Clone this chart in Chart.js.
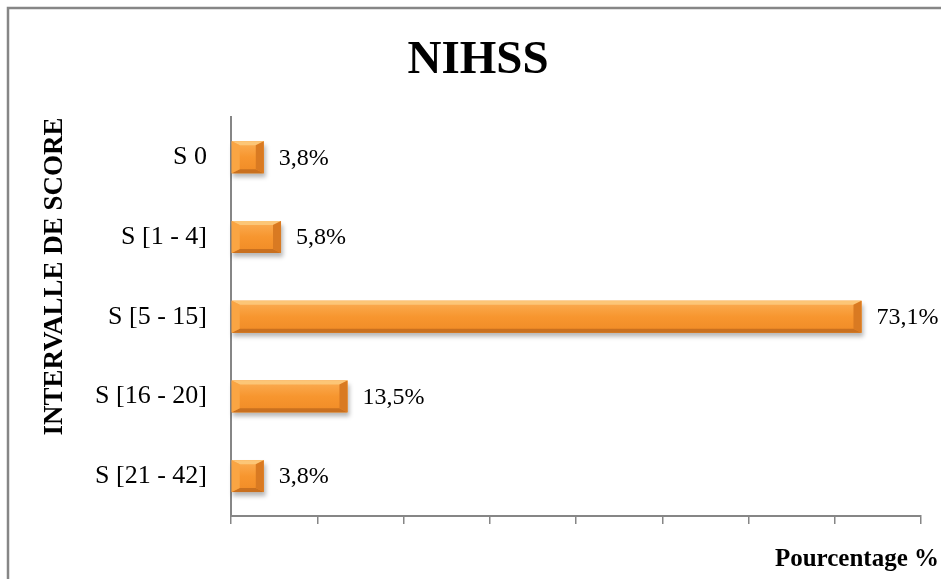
<!DOCTYPE html>
<html>
<head>
<meta charset="utf-8">
<title>NIHSS</title>
<script src="https://cdn.jsdelivr.net/npm/chart.js@4/dist/chart.umd.min.js"></script>
<style>
  html, body { margin: 0; padding: 0; background: #fff; }
  #wrap { width: 941px; height: 579px; position: relative; }
</style>
</head>
<body>
<div id="wrap"><canvas id="chartNihss"></canvas></div>
<script>
const categories = ["S 0", "S [1 - 4]", "S [5 - 15]", "S [16 - 20]", "S [21 - 42]"];
const percentages = [3.8, 5.8, 73.1, 13.5, 3.8];
const xTicks = [0, 10, 20, 30, 40, 50, 60, 70, 80];

const serif = "'Liberation Serif', 'Times New Roman', serif";
const axisGray = "#868686";

function fmtPct(v) {
  return v.toFixed(1).replace(".", ",") + "%";
}

// outer frame of the chart box (runs off the right and bottom edges)
const chartFrame = {
  id: "chartFrame",
  beforeDraw(chart) {
    const ctx = chart.ctx;
    ctx.save();
    ctx.strokeStyle = axisGray;
    ctx.lineWidth = 2.5;
    ctx.strokeRect(8, 8, chart.width + 20, chart.height + 20);
    ctx.restore();
  }
};

// orange bars with a shadow, a bevelled edge and value labels
const bevelBars = {
  id: "bevelBars",
  beforeDatasetsDraw(chart) {
    const ctx = chart.ctx;
    chart.getDatasetMeta(0).data.forEach(bar => {
      const { x, y, base, height } = bar.getProps(["x", "y", "base", "height"], true);
      ctx.save();
      ctx.filter = "blur(2px)";
      ctx.fillStyle = "rgba(0,0,0,0.28)";
      ctx.fillRect(base + 1, y - height / 2 + 4, x - base + 1, height);
      ctx.restore();
    });
  },
  afterDatasetsDraw(chart) {
    const ctx = chart.ctx;
    chart.getDatasetMeta(0).data.forEach((bar, i) => {
      const { x, y, base, height } = bar.getProps(["x", "y", "base", "height"], true);
      const l = base, r = x, t = y - height / 2, b = y + height / 2;
      const bx = Math.min(8, (r - l) / 2), by = 4;

      const g = ctx.createLinearGradient(0, t, 0, b);
      g.addColorStop(0, "#fbae55");
      g.addColorStop(0.5, "#f7962f");
      g.addColorStop(1, "#f08b26");
      ctx.fillStyle = g;
      ctx.fillRect(l, t, r - l, b - t);

      const poly = (pts, color) => {
        ctx.beginPath();
        ctx.moveTo(pts[0][0], pts[0][1]);
        pts.slice(1).forEach(p => ctx.lineTo(p[0], p[1]));
        ctx.closePath();
        ctx.fillStyle = color;
        ctx.fill();
      };
      poly([[l, t], [r, t], [r - bx, t + by], [l + bx, t + by]], "#fcc677");
      poly([[l, b], [r, b], [r - bx, b - by], [l + bx, b - by]], "#c9701f");
      poly([[l, t], [l + bx, t + by], [l + bx, b - by], [l, b]], "#faa543");
      poly([[r, t], [r - bx, t + by], [r - bx, b - by], [r, b]], "#d97a22");

      ctx.save();
      ctx.font = "24px " + serif;
      ctx.fillStyle = "#000";
      ctx.textAlign = "left";
      ctx.textBaseline = "middle";
      ctx.fillText(fmtPct(percentages[i]), r + 15, y + 1);
      ctx.restore();
    });
  }
};

// x axis title sits past the end of the axis, at the right of the frame
const xAxisTitle = {
  id: "xAxisTitle",
  afterDraw(chart) {
    const ctx = chart.ctx;
    const sx = chart.scales.x;
    ctx.save();
    ctx.font = "bold 25px " + serif;
    ctx.fillStyle = "#000";
    ctx.textAlign = "right";
    ctx.textBaseline = "middle";
    ctx.fillText("Pourcentage %", sx.right + 18, sx.bottom + 36);
    ctx.restore();
  }
};

new Chart(document.getElementById("chartNihss"), {
  type: "bar",
  data: {
    labels: categories,
    datasets: [{
      label: "NIHSS",
      data: percentages,
      backgroundColor: "#f7962f",
      borderWidth: 0,
      barPercentage: 0.4,
      categoryPercentage: 1
    }]
  },
  options: {
    indexAxis: "y",
    responsive: true,
    maintainAspectRatio: false,
    animation: false,
    layout: { padding: { left: 35, right: 20, top: 10, bottom: 55 } },
    plugins: {
      legend: { display: false },
      tooltip: { enabled: false },
      title: {
        display: true,
        text: "NIHSS",
        color: "#000",
        font: { family: serif, size: 47, weight: "bold" },
        padding: { top: 23, bottom: 28 }
      }
    },
    scales: {
      x: {
        min: xTicks[0],
        max: xTicks[xTicks.length - 1],
        ticks: { display: false, stepSize: xTicks[1] - xTicks[0] },
        grid: { drawOnChartArea: false, drawTicks: true, tickLength: 8, color: axisGray, lineWidth: 1.5 },
        border: { display: true, color: axisGray, width: 2 }
      },
      y: {
        afterFit(scale) { scale.width = 196; },
        ticks: { color: "#000", padding: 24, font: { family: serif, size: 26 } },
        grid: { display: false, drawTicks: false },
        border: { display: true, color: axisGray, width: 2 },
        title: {
          display: true,
          text: "INTERVALLE DE SCORE",
          align: "end",
          color: "#000",
          font: { family: serif, size: 27, weight: "bold" },
          padding: { top: 4, bottom: 0 }
        }
      }
    }
  },
  plugins: [chartFrame, bevelBars, xAxisTitle]
});
</script>
</body>
</html>
